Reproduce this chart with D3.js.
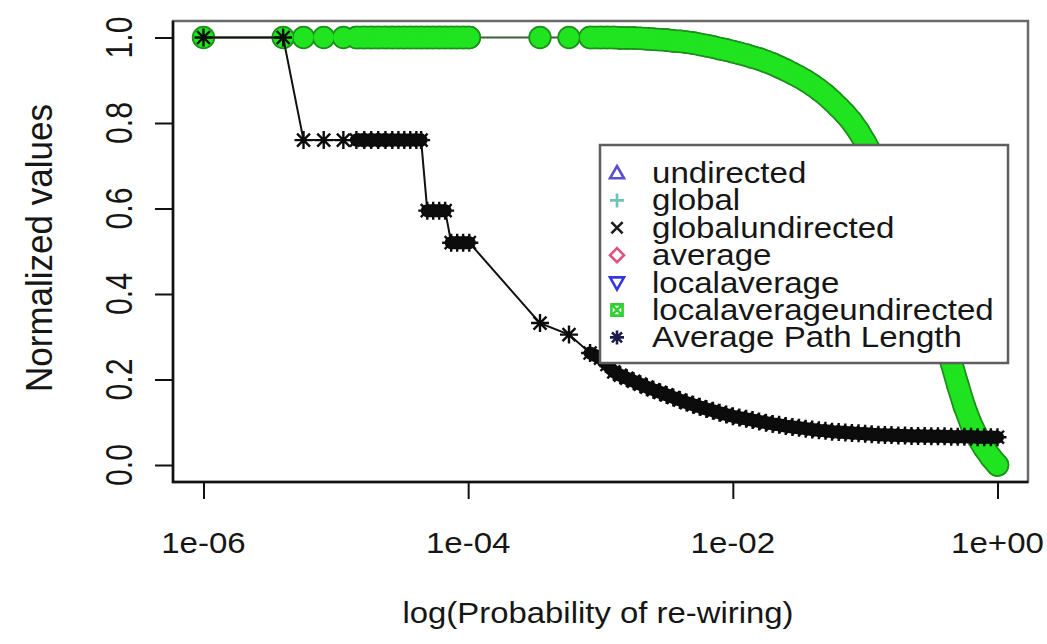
<!DOCTYPE html>
<html>
<head>
<meta charset="utf-8">
<script src="https://cdn.jsdelivr.net/npm/d3@7/dist/d3.min.js"></script>
<style>
  html, body { margin: 0; padding: 0; background: #fff; }
  svg { display: block; }
  text { font-family: "Liberation Sans", Arial, Helvetica, sans-serif; fill: #161616; }
</style>
</head>
<body>
<svg id="chart" width="1047" height="644"></svg>
<script>
// ---------------- data ----------------
const probability = [
  1e-6, 4.0e-6,
  5.7e-6, 8.1e-6, 1.14e-5, 1.43e-5, 1.64e-5, 1.85e-5, 2.09e-5, 2.37e-5, 2.67e-5, 2.97e-5, 3.29e-5, 3.65e-5, 4.06e-5, 4.41e-5,
  4.91e-5, 5.44e-5, 6.04e-5, 6.70e-5,
  7.44e-5, 8.26e-5, 9.16e-5, 1.02e-4,
  3.49e-4, 5.78e-4, 8.34e-4,
  0.001, 0.00112, 0.00126, 0.00141, 0.00158, 0.00178, 0.002, 0.00224, 0.00251, 0.00282,
  0.00316, 0.00355, 0.00398, 0.00447, 0.00501, 0.00562, 0.00631, 0.00708, 0.00794, 0.00891,
  0.01, 0.0112, 0.0126, 0.0141, 0.0158, 0.0178, 0.02, 0.0224, 0.0251, 0.0282,
  0.0316, 0.0355, 0.0398, 0.0447, 0.0501, 0.0562, 0.0631, 0.0708, 0.0794, 0.0891,
  0.1, 0.112, 0.126, 0.141, 0.158, 0.178, 0.2, 0.224, 0.251, 0.282,
  0.316, 0.355, 0.398, 0.447, 0.501, 0.562, 0.631, 0.708, 0.794, 0.891, 1.0
];

const localAverageUndirected = [
  1.0, 1.0,
  1.0, 1.0, 1.0, 1.0, 1.0, 1.0, 1.0, 1.0, 1.0, 1.0, 1.0, 1.0, 1.0, 1.0,
  1.0, 1.0, 1.0, 1.0,
  1.0, 1.0, 1.0, 1.0,
  1.0, 1.0, 1.0,
  1.000, 1.000, 1.000, 0.999, 0.999, 0.999, 0.998, 0.997, 0.996, 0.995,
  0.994, 0.992, 0.991, 0.989, 0.987, 0.984, 0.981, 0.978, 0.974, 0.971,
  0.967, 0.963, 0.959, 0.954, 0.950, 0.944, 0.938, 0.931, 0.924, 0.916,
  0.908, 0.899, 0.889, 0.878, 0.866, 0.852, 0.837, 0.821, 0.803, 0.781,
  0.755, 0.728, 0.698, 0.667, 0.631, 0.594, 0.554, 0.513, 0.470, 0.428,
  0.390, 0.350, 0.300, 0.241, 0.187, 0.137, 0.096, 0.065, 0.040, 0.018, 0.000
];

const averagePathLength = [
  1.0, 1.0,
  0.76, 0.76, 0.76, 0.76, 0.76, 0.76, 0.76, 0.76, 0.76, 0.76, 0.76, 0.76, 0.76, 0.76,
  0.595, 0.595, 0.595, 0.595,
  0.52, 0.52, 0.52, 0.52,
  0.332, 0.305, 0.262,
  0.250, 0.235, 0.218, 0.210, 0.203, 0.196, 0.189, 0.182, 0.176, 0.170,
  0.164, 0.158, 0.152, 0.146, 0.141, 0.136, 0.131, 0.127, 0.122, 0.118,
  0.114, 0.111, 0.108, 0.105, 0.102, 0.099, 0.096, 0.094, 0.091, 0.089,
  0.087, 0.085, 0.083, 0.081, 0.080, 0.078, 0.077, 0.076, 0.075, 0.074,
  0.073, 0.072, 0.071, 0.070, 0.070, 0.069, 0.069, 0.068, 0.068, 0.068,
  0.067, 0.067, 0.067, 0.066, 0.066, 0.066, 0.066, 0.065, 0.065, 0.065, 0.065
];

const xTickValues = [1e-6, 1e-4, 1e-2, 1];
const xTickLabels = ["1e-06", "1e-04", "1e-02", "1e+00"];
const yTickValues = [0, 0.2, 0.4, 0.6, 0.8, 1.0];
const yTickLabels = ["0.0", "0.2", "0.4", "0.6", "0.8", "1.0"];

const legendLabels = ["undirected", "global", "globalundirected", "average",
                      "localaverage", "localaverageundirected", "Average Path Length"];
const legendSymbols = ["triangle", "plus", "cross", "diamond", "triangleDown", "boxcross", "asterisk"];
const legendColors = ["#5a4ed0", "#6cc4b4", "#1c1c1c", "#e0527e", "#3636e0", "#33d033", "#1c1c4a"];

const xLabel = "log(Probability of re-wiring)";
const yLabel = "Normalized values";

// ---------------- layout ----------------
const box = { left: 173, top: 21, right: 1028, bottom: 482 };
const svg = d3.select("#chart");

const x = d3.scaleLog().domain([1e-6, 1]).range([203.5, 997.5]);
const y = d3.scaleLinear().domain([0, 1]).range([465, 37.5]);

const SX = 1.14;

// frame
svg.append("rect")
  .attr("x", box.left).attr("y", box.top)
  .attr("width", box.right - box.left).attr("height", box.bottom - box.top)
  .attr("fill", "none").attr("stroke", "#6a6a6a").attr("stroke-width", 2.5);

// axes (ticks)
const yAxis = d3.axisLeft(y).tickValues(yTickValues).tickSize(18).tickFormat("");
const gy = svg.append("g").attr("transform", `translate(${box.left},0)`).call(yAxis);
gy.select(".domain").remove();
gy.selectAll(".tick line").attr("stroke", "#111").attr("stroke-width", 2);

const xAxis = d3.axisBottom(x).tickValues(xTickValues).tickSize(17).tickFormat("");
const gx = svg.append("g").attr("transform", `translate(0,${box.bottom})`).call(xAxis);
gx.select(".domain").remove();
gx.selectAll(".tick line").attr("stroke", "#111").attr("stroke-width", 2);

svg.append("line").attr("x1", box.left).attr("x2", box.left)
  .attr("y1", box.top).attr("y2", box.bottom + 1)
  .attr("stroke", "#111").attr("stroke-width", 2.5);
svg.append("line").attr("x1", box.left - 1).attr("x2", box.right)
  .attr("y1", box.bottom).attr("y2", box.bottom)
  .attr("stroke", "#111").attr("stroke-width", 2.5);

// tick labels
xTickValues.forEach((v, i) => {
  svg.append("text")
    .attr("transform", `translate(${x(v)},553) scale(${SX},1)`)
    .attr("text-anchor", "middle").attr("font-size", 29)
    .text(xTickLabels[i]);
});
yTickValues.forEach((v, i) => {
  svg.append("text")
    .attr("transform", `translate(119,${y(v)}) scale(1.25,1) rotate(-90)`)
    .attr("y", 10.4)
    .attr("text-anchor", "middle").attr("font-size", 29)
    .attr("textLength", 42).attr("lengthAdjust", "spacingAndGlyphs")
    .text(yTickLabels[i]);
});

// axis titles
svg.append("text")
  .attr("transform", `translate(598,623)`)
  .attr("text-anchor", "middle").attr("font-size", 29)
  .attr("textLength", 391).attr("lengthAdjust", "spacingAndGlyphs")
  .text(xLabel);
svg.append("text")
  .attr("transform", `translate(39,248) scale(1.2,1) rotate(-90)`)
  .attr("y", 10.7)
  .attr("text-anchor", "middle").attr("font-size", 30)
  .attr("textLength", 288).attr("lengthAdjust", "spacingAndGlyphs")
  .text(yLabel);

// ---------------- series ----------------
const greenData = probability.map((p, i) => ({ p, v: localAverageUndirected[i] }));
const blackData = probability.map((p, i) => ({ p, v: averagePathLength[i] }));

const line = d3.line().x(d => x(d.p)).y(d => y(d.v));

// path of segments joining neighbouring markers that overlap (dense runs)
function overlapSegments(data, test) {
  let d = "";
  for (let i = 0; i < data.length - 1; i++) {
    const x0 = x(data[i].p), y0 = y(data[i].v), x1 = x(data[i + 1].p), y1 = y(data[i + 1].v);
    if (test(x1 - x0, y1 - y0)) d += `M${x0},${y0}L${x1},${y1}`;
  }
  return d;
}

// green series
svg.append("path").datum(greenData).attr("d", line)
  .attr("fill", "none").attr("stroke", "#3a5f3a").attr("stroke-width", 2);
const greenBand = overlapSegments(greenData, (dx, dy) => Math.abs(dx) < 12);
svg.append("path").attr("d", greenBand).attr("fill", "none")
  .attr("stroke", "#1b8e1b").attr("stroke-width", 23.5)
  .attr("stroke-linecap", "round").attr("stroke-linejoin", "round");
svg.append("g").selectAll("circle").data(greenData).join("circle")
  .attr("cx", d => x(d.p)).attr("cy", d => y(d.v)).attr("r", 11.7)
  .attr("fill", "#1b8e1b");
svg.append("path").attr("d", greenBand).attr("fill", "none")
  .attr("stroke", "#1fe41f").attr("stroke-width", 20)
  .attr("stroke-linecap", "round").attr("stroke-linejoin", "round");
svg.append("g").selectAll("circle").data(greenData).join("circle")
  .attr("cx", d => x(d.p)).attr("cy", d => y(d.v)).attr("r", 10)
  .attr("fill", "#1fe41f");

// black series
svg.append("path").datum(blackData).attr("d", line)
  .attr("fill", "none").attr("stroke", "#111").attr("stroke-width", 2);
const blackBand = overlapSegments(blackData, (dx, dy) => Math.hypot(dx, dy) < 12);
svg.append("path").attr("d", blackBand).attr("fill", "none")
  .attr("stroke", "#0c0c0c").attr("stroke-width", 13)
  .attr("stroke-linecap", "round").attr("stroke-linejoin", "round");

function asteriskPath(cx, cy, s) {
  const d = s * 0.72;
  return `M${cx - s},${cy}L${cx + s},${cy}M${cx},${cy - s}L${cx},${cy + s}` +
         `M${cx - d},${cy - d}L${cx + d},${cy + d}M${cx - d},${cy + d}L${cx + d},${cy - d}`;
}
svg.append("g").selectAll("path").data(blackData).join("path")
  .attr("d", d => asteriskPath(x(d.p), y(d.v), 9))
  .attr("stroke", "#0c0c0c").attr("stroke-width", 2.4).attr("fill", "none");

// ---------------- legend ----------------
const lg = svg.append("g");
lg.append("rect").attr("x", 600).attr("y", 145).attr("width", 408).attr("height", 218)
  .attr("fill", "#fff").attr("stroke", "#5e5e5e").attr("stroke-width", 2.5);

function symbolPath(type, cx, cy) {
  const s = 7;
  switch (type) {
    case "triangle": return `M${cx},${cy - s}L${cx + s},${cy + s * 0.75}L${cx - s},${cy + s * 0.75}Z`;
    case "triangleDown": return `M${cx},${cy + s}L${cx + s},${cy - s * 0.75}L${cx - s},${cy - s * 0.75}Z`;
    case "plus": return `M${cx - s},${cy}L${cx + s},${cy}M${cx},${cy - s}L${cx},${cy + s}`;
    case "cross": return `M${cx - s * 0.8},${cy - s * 0.8}L${cx + s * 0.8},${cy + s * 0.8}M${cx - s * 0.8},${cy + s * 0.8}L${cx + s * 0.8},${cy - s * 0.8}`;
    case "diamond": return `M${cx},${cy - s}L${cx + s},${cy}L${cx},${cy + s}L${cx - s},${cy}Z`;
    case "boxcross": {
      const b = s * 0.8;
      return `M${cx - b},${cy - b}H${cx + b}V${cy + b}H${cx - b}Z` +
             `M${cx - b},${cy - b}L${cx + b},${cy + b}M${cx - b},${cy + b}L${cx + b},${cy - b}`;
    }
    case "asterisk": return asteriskPath(cx, cy, s);
  }
}

legendLabels.forEach((lab, i) => {
  const base = 183 + 27.4 * i;
  lg.append("path").attr("d", symbolPath(legendSymbols[i], 617, base - 10))
    .attr("fill", "none").attr("stroke", legendColors[i]).attr("stroke-width", 2.6);
  lg.append("text")
    .attr("transform", `translate(652,${base}) scale(${SX},1)`)
    .attr("font-size", 29)
    .text(lab);
});
</script>
</body>
</html>
